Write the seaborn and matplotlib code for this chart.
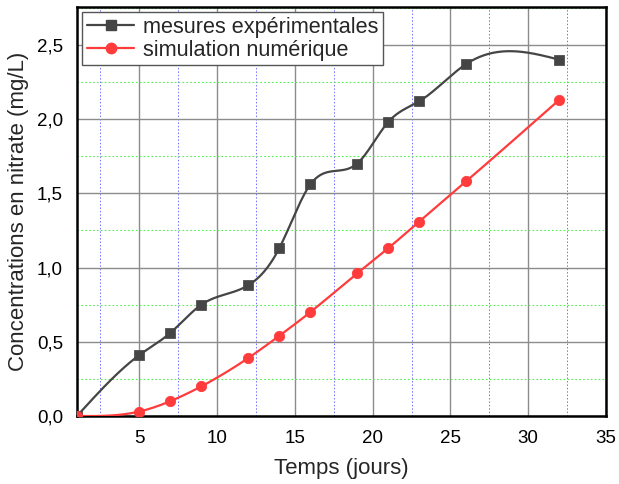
import numpy as np
import pandas as pd
import matplotlib
matplotlib.use("Agg")
import matplotlib.pyplot as plt
from matplotlib.lines import Line2D
from matplotlib.ticker import MultipleLocator, FuncFormatter
import seaborn as sns

temps = [1, 5, 7, 9, 12, 14, 16, 19, 21, 23, 26, 32]
mesures = [0.0, 0.41, 0.56, 0.75, 0.88, 1.13, 1.56, 1.70, 1.98, 2.12, 2.37, 2.40]
simulation = [0.0, 0.03, 0.10, 0.20, 0.39, 0.54, 0.70, 0.96, 1.13, 1.31, 1.58, 2.13]
label_mes = "mesures expérimentales"
label_sim = "simulation numérique"


def natural_spline(x, y, n=400):
    x = np.asarray(x, float)
    y = np.asarray(y, float)
    k = len(x)
    h = np.diff(x)
    A = np.zeros((k, k))
    b = np.zeros(k)
    A[0, 0] = A[-1, -1] = 1
    for i in range(1, k - 1):
        A[i, i - 1] = h[i - 1]
        A[i, i] = 2 * (h[i - 1] + h[i])
        A[i, i + 1] = h[i]
        b[i] = 6 * ((y[i + 1] - y[i]) / h[i] - (y[i] - y[i - 1]) / h[i - 1])
    M = np.linalg.solve(A, b)
    xs = np.linspace(x[0], x[-1], n)
    idx = np.clip(np.searchsorted(x, xs) - 1, 0, k - 2)
    x0, x1 = x[idx], x[idx + 1]
    hh = x1 - x0
    t0 = x1 - xs
    t1 = xs - x0
    ys = (M[idx] * t0**3 + M[idx + 1] * t1**3) / (6 * hh) \
        + (y[idx] / hh - M[idx] * hh / 6) * t0 \
        + (y[idx + 1] / hh - M[idx + 1] * hh / 6) * t1
    return xs, ys


sns.set_style("white")
plt.rcParams['font.family'] = ['Liberation Sans', 'DejaVu Sans']

fig = plt.figure(figsize=(6.19, 4.84), dpi=100)
ax = fig.add_axes([0.1244, 0.1405, 0.979 - 0.1244, 0.9855 - 0.1405])

c_mes = "#454545"
c_sim = "#ff3b3b"

xs, ys = natural_spline(temps, mesures)
sns.lineplot(x=xs, y=ys, ax=ax, color=c_mes, lw=1.6, zorder=3)
xs2, ys2 = natural_spline(temps, simulation)
sns.lineplot(x=xs2, y=ys2, ax=ax, color=c_sim, lw=1.6, zorder=3)

df = pd.DataFrame({"t": temps, "m": mesures, "s": simulation})
sns.scatterplot(data=df, x="t", y="m", ax=ax, marker="s", s=44, color=c_mes,
                edgecolor=c_mes, zorder=4)
sns.scatterplot(data=df, x="t", y="s", ax=ax, marker="o", s=55, color=c_sim,
                edgecolor=c_sim, zorder=4)

ax.set_xlim(1, 35)
ax.set_ylim(0, 2.755)
ax.xaxis.set_major_locator(MultipleLocator(5))
ax.xaxis.set_minor_locator(MultipleLocator(2.5))
ax.yaxis.set_major_locator(MultipleLocator(0.5))
ax.yaxis.set_minor_locator(MultipleLocator(0.25))
ax.yaxis.set_major_formatter(FuncFormatter(lambda v, p: f"{v:.1f}".replace(".", ",")))
ax.xaxis.set_major_formatter(FuncFormatter(lambda v, p: f"{int(v)}"))

ax.grid(which="major", axis="both", color="#8c8c8c", lw=1.0, ls="-")
ax.grid(which="minor", axis="x", color="#7070ff", lw=0.7, ls=(0, (1.5, 2)))
ax.grid(which="minor", axis="y", color="#55ee55", lw=0.8, ls=(0, (1.5, 2)))
ax.set_axisbelow(True)
ax.tick_params(which="both", length=0, labelsize=13.5, pad=10, colors="black")

for sp in ax.spines.values():
    sp.set_color("black")
    sp.set_linewidth(1.8)

ax.set_xlabel("Temps (jours)", fontsize=16, labelpad=8)
ax.set_ylabel("Concentrations en nitrate (mg/L)", fontsize=16, labelpad=6)

handles = [
    Line2D([], [], color=c_mes, lw=1.6, marker="s", markersize=6.5),
    Line2D([], [], color=c_sim, lw=1.6, marker="o", markersize=7.5),
]
leg = ax.legend(handles, [label_mes, label_sim], loc="upper left",
                bbox_to_anchor=(0.0, 1.0), fontsize=15.6, frameon=True,
                fancybox=False, handlelength=2.2, borderpad=0.2,
                labelspacing=0.1, handletextpad=0.4, borderaxespad=0.25)
leg.get_frame().set_edgecolor("#555555")
leg.get_frame().set_linewidth(1.0)
leg.get_frame().set_alpha(1)

fig.savefig("out.png", dpi=100)
